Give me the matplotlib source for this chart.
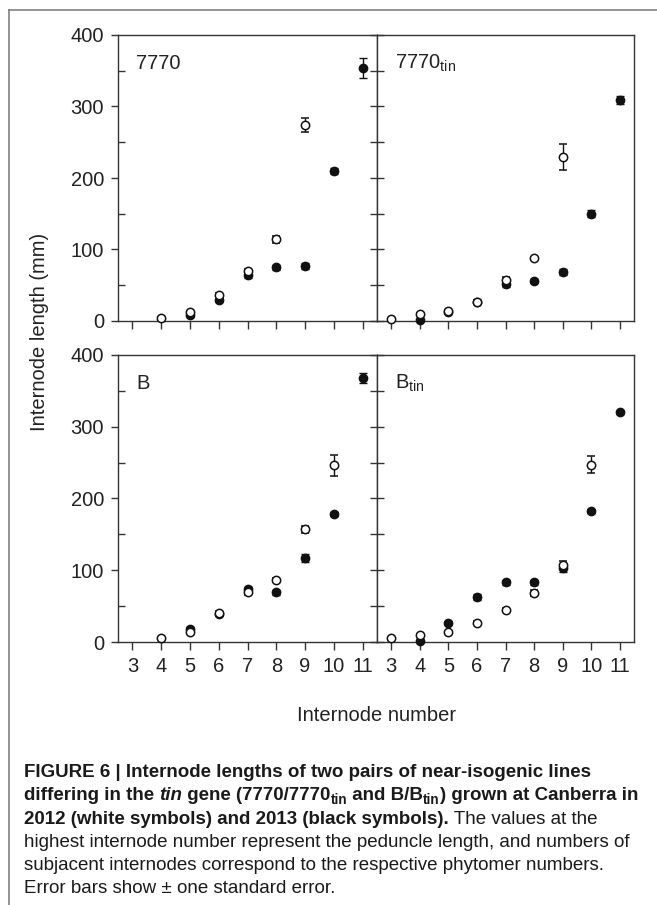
import matplotlib
matplotlib.use('Agg')
import matplotlib.pyplot as plt
from matplotlib.lines import Line2D
import numpy as np

# internode numbers and lengths (mm), 2012 = open symbols, 2013 = filled symbols
x_7770_12 = [4, 5, 6, 7, 8, 9]
y_7770_12 = [4, 12, 37, 70, 114, 274]
e_7770_12 = [1, 1.5, 2, 3, 5.5, 10]
x_7770_13 = [5, 6, 7, 8, 9, 10, 11]
y_7770_13 = [8, 30, 65, 75, 77, 210, 354]
e_7770_13 = [2, 3, 5, 3, 4, 4.5, 14]

x_7770tin_12 = [3, 4, 5, 6, 7, 8, 9]
y_7770tin_12 = [3, 10, 14, 27, 58, 88, 229]
e_7770tin_12 = [1, 1.5, 2, 2.5, 4, 2, 18]
x_7770tin_13 = [4, 5, 6, 7, 8, 9, 10, 11]
y_7770tin_13 = [2, 13, 27, 52, 56, 69, 150, 309]
e_7770tin_13 = [1, 1.5, 2, 4, 3, 4, 5, 5]

x_B_12 = [4, 5, 6, 7, 8, 9, 10]
y_B_12 = [5, 14, 40, 70, 87, 157, 246]
e_B_12 = [1, 2, 3, 4, 2, 5, 14]
x_B_13 = [5, 6, 7, 8, 9, 10, 11]
y_B_13 = [18, 39, 74, 69, 117, 178, 368]
e_B_13 = [3, 3, 3, 3, 6, 3, 7]

x_Btin_12 = [3, 4, 5, 6, 7, 8, 9, 10]
y_Btin_12 = [5, 10, 14, 27, 45, 68, 108, 247]
e_Btin_12 = [1, 1, 2, 2, 3, 4, 5, 12]
x_Btin_13 = [4, 5, 6, 7, 8, 9, 10, 11]
y_Btin_13 = [2, 26, 63, 83, 83, 103, 183, 320]
e_Btin_13 = [1, 3, 4, 3, 3, 5, 3, 2]

panel_names = ['7770', r'7770$_{\mathrm{tin}}$', 'B', r'B$_{\mathrm{tin}}$']
x_ticks = [3, 4, 5, 6, 7, 8, 9, 10, 11]
y_ticks = [0, 100, 200, 300, 400]

W, H = 657, 905

plt.rcParams['font.family'] = ['Liberation Sans', 'DejaVu Sans']
plt.rcParams['mathtext.fontset'] = 'custom'
plt.rcParams['mathtext.rm'] = 'Liberation Sans'
plt.rcParams['mathtext.it'] = 'Liberation Sans:italic'
plt.rcParams['mathtext.bf'] = 'Liberation Sans:bold'

txt = '#222222'
spine_c = '#333333'

fig = plt.figure(figsize=(W / 100, H / 100), dpi=100)

def px_rect(l, t, r, b):
    return [l / W, 1 - b / H, (r - l) / W, (b - t) / H]

rects = [px_rect(118, 35, 377, 321), px_rect(377, 35, 634, 321),
         px_rect(118, 355, 377, 642), px_rect(377, 355, 634, 642)]

series = [
    (x_7770_12, y_7770_12, e_7770_12, x_7770_13, y_7770_13, e_7770_13),
    (x_7770tin_12, y_7770tin_12, e_7770tin_12, x_7770tin_13, y_7770tin_13, e_7770tin_13),
    (x_B_12, y_B_12, e_B_12, x_B_13, y_B_13, e_B_13),
    (x_Btin_12, y_Btin_12, e_Btin_12, x_Btin_13, y_Btin_13, e_Btin_13),
]

for i, (rect, s) in enumerate(zip(rects, series)):
    ax = fig.add_axes(rect)
    xo, yo, eo, xc, yc, ec = s
    # 2013 filled first, 2012 open on top
    ax.errorbar(xc, yc, yerr=ec, fmt='o', ms=6, mfc='#111111', mec='#111111', mew=1,
                ecolor='#111111', elinewidth=1, capsize=3, capthick=1, clip_on=False, zorder=3)
    ax.errorbar(xo, yo, yerr=eo, fmt='o', ms=6, mfc='white', mec='#111111', mew=1.1,
                ecolor='#111111', elinewidth=1, capsize=3, capthick=1, clip_on=False, zorder=4)
    ax.set_xlim(2.5, 11.5)
    ax.set_ylim(0, 400)
    ax.set_xticks(x_ticks)
    ax.set_yticks(y_ticks)
    ax.set_yticks(np.arange(50, 400, 100), minor=True)
    for sp in ax.spines.values():
        sp.set_color(spine_c)
        sp.set_linewidth(1.0)
    ax.tick_params(axis='x', direction='out', length=6, width=1, color=spine_c,
                   labelsize=14.5, labelcolor=txt, pad=5, top=False)
    if i % 2 == 0:
        ax.tick_params(axis='y', which='major', direction='out', length=5, width=1,
                       color=spine_c, labelsize=14.5, labelcolor=txt, pad=5, right=False)
        ax.tick_params(axis='y', which='minor', direction='in', length=5, width=1,
                       color=spine_c, right=False)
    else:
        ax.tick_params(axis='y', which='both', direction='inout', length=10, width=1,
                       color=spine_c, labelleft=False, right=False)
    if i < 2:
        ax.tick_params(axis='x', labelbottom=False)
    ax.text(0.07, 0.9, panel_names[i], transform=ax.transAxes, fontsize=14.5,
            color=txt, ha='left', va='center')

fig.text(40 / W, 1 - 332 / H, 'Internode length (mm)', rotation=90, fontsize=14.5,
         color=txt, ha='center', va='center')
fig.text(377 / W, 1 - 715 / H, 'Internode number', fontsize=14.5, color=txt,
         ha='center', va='center')

# outer frame of the figure panel
fig.add_artist(Line2D([9 / W, 1], [1 - 10 / H, 1 - 10 / H], color='#777777', lw=1.1))
fig.add_artist(Line2D([9 / W, 9 / W], [0, 1 - 10 / H], color='#777777', lw=1.1))

# caption, drawn piece by piece
renderer = fig.canvas.get_renderer()
cap_size = 13.5

def width_of(s, **kw):
    t1 = fig.text(0, 0, '|' + s + '|', **kw)
    t2 = fig.text(0, 0, '||', **kw)
    w = t1.get_window_extent(renderer).width - t2.get_window_extent(renderer).width
    t1.remove()
    t2.remove()
    return w

def caption_line(y_base, runs):
    x = 24
    for s, style in runs:
        kw = dict(color='#1a1a1a', fontsize=cap_size)
        dy = 0
        if 'b' in style:
            kw['weight'] = 'bold'
        if 'i' in style:
            kw['style'] = 'italic'
        if 's' in style:
            kw['fontsize'] = cap_size * 0.72
            dy = 4
        fig.text(x / W, 1 - (y_base + dy) / H, s, va='baseline', ha='left', **kw)
        x += width_of(s, **kw)

caption_line(777, [('FIGURE 6 | Internode lengths of two pairs of near-isogenic lines', 'b')])
caption_line(800, [('differing in the ', 'b'), ('tin', 'bi'), (' gene (7770/7770', 'b'),
                   ('tin', 'bs'), (' and B/B', 'b'), ('tin', 'bs'),
                   (') grown at Canberra in', 'b')])
caption_line(824, [('2012 (white symbols) and 2013 (black symbols).', 'b'),
                   (' The values at the', '')])
caption_line(847, [('highest internode number represent the peduncle length, and numbers of', '')])
caption_line(870, [('subjacent internodes correspond to the respective phytomer numbers.', '')])
caption_line(893, [('Error bars show \u00b1 one standard error.', '')])

fig.savefig('out.png', dpi=100)
